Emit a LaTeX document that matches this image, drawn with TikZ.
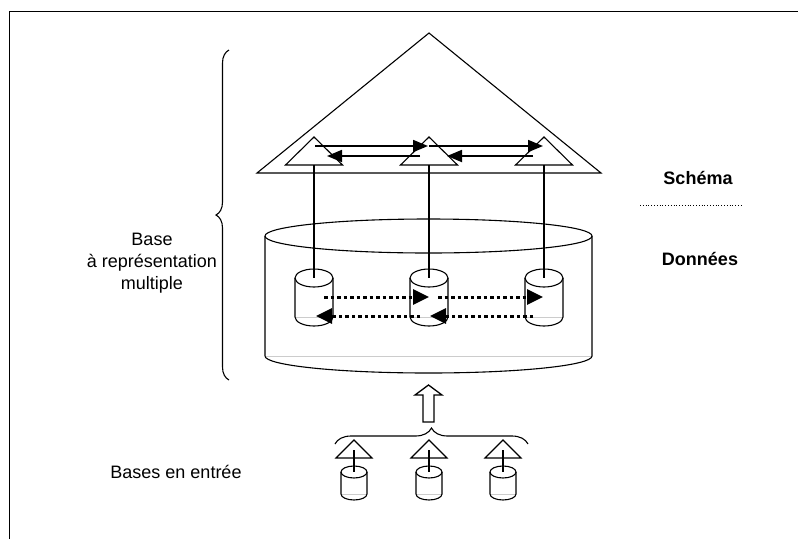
\documentclass[tikz,border=0pt]{standalone}
\usepackage{fontspec}
\setmainfont{Liberation Sans}
\usetikzlibrary{shapes,arrows.meta,positioning,calc,decorations.pathreplacing}

\tikzset{
  pics/tri/.style n args={2}{code={
    \draw[shp,fill=white] (-#1,#2) -- (0,0) -- (#1,#2) -- cycle;
    \coordinate (-apex) at (0,0);
    \coordinate (-base) at (0,#2);
  }},
  pics/dbcyl/.style n args={3}{code={
    \draw[rim] (-#1,#3) -- (#1,#3);
    \draw[shp] (-#1,0) -- (-#1,#3) arc[start angle=180,end angle=0,x radius=#1,y radius=#2] -- (#1,0);
    \draw[shp] (0,0) ellipse[x radius=#1,y radius=#2];
    \coordinate (-top) at (0,0);
  }}
}

\begin{document}
\begin{tikzpicture}[
  x=1pt,y=-1pt,
  shp/.style={draw,line width=1.1pt},
  rim/.style={draw=gray!40,line width=1pt},
  arr/.style={-{Triangle[length=15pt,width=12pt]},line width=1.8pt},
  dotarr/.style={-{Triangle[length=16pt,width=15pt]},line width=3pt,dash pattern=on 3.5pt off 3pt},
  brc/.style={decorate,line width=1.1pt},
  sep/.style={dotted,line width=0.8pt},
  lbl/.style={font=\fontsize{18}{22}\selectfont},
  hdr/.style={font=\fontsize{18}{22}\selectfont\bfseries}
]
\useasboundingbox (0,0) rectangle (798,539);
% Frame
\draw[line width=1pt] (9,539) -- (9,11) -- (800,11);

% Schema level
\pic (schema) at (429,33) {tri={172}{140}};
\pic (s1) at (314,137) {tri={28.5}{28}};
\pic (s2) at (429,137) {tri={28.5}{28}};
\pic (s3) at (544,137) {tri={28.5}{28}};

% Data level
\pic (db) at (428.5,236) {dbcyl={163.5}{17}{120}};
\pic (b1) at (314,278) {dbcyl={19}{9}{39}};
\pic (b2) at (429,278) {dbcyl={19}{9}{39}};
\pic (b3) at (544,278) {dbcyl={19}{9}{39}};

% Links schema -> data
\draw[shp] (s1-base) -- (b1-top);
\draw[shp] (s2-base) -- (b2-top);
\draw[shp] (s3-base) -- (b3-top);

\draw[arr] ($(s1-apex)+(1,9)$) -- ($(s2-apex)+(-1,9)$);
\draw[arr] ($(s2-apex)+(0,9)$) -- ($(s3-apex)+(-1,9)$);
\draw[arr] ($(s3-apex)+(-11,19)$) -- ($(s2-apex)+(18,19)$);
\draw[arr] ($(s2-apex)+(-9,19)$) -- ($(s1-apex)+(13,19)$);

\draw[dotarr] ($(b1-top)+(10,19)$) -- ($(b2-top)+(0,19)$);
\draw[dotarr] ($(b2-top)+(9,19)$) -- ($(b3-top)+(-1,19)$);
\draw[dotarr] ($(b3-top)+(-11,38)$) -- ($(b2-top)+(1,38)$);
\draw[dotarr] ($(b2-top)+(-9,38)$) -- ($(b1-top)+(2,38)$);

% Braces
\draw[brc,decoration={brace,amplitude=13pt}] (229,380) -- (229,50);
\draw[brc,decoration={brace,amplitude=16pt}] (335,444) -- (528,444);

% Input arrow
\draw[shp,line width=1.3pt] (423,422) -- (423,395) -- (415,395) -- (428.5,385)
  -- (442,395) -- (434,395) -- (434,422) -- cycle;

% Input bases
\foreach \i/\x in {1/354,2/429,3/503}{
  \pic (e\i) at (\x,440) {tri={18}{18}};
  \pic (ec\i) at (\x,472) {dbcyl={13}{6}{22}};
  \draw[shp] ($(e\i-apex)+(0,10)$) -- (ec\i-top);
}

% Labels
\node[lbl,align=center] (multi) at (152,263) {Base\\à représentation\\multiple};
\node[lbl,anchor=base] (entree) at (176,478) {Bases en entrée};
\node[hdr,anchor=base] (schemalbl) at (698,184) {Schéma};
\draw[sep] (640,205) -- (742,205);
\node[hdr,anchor=base] (donnees) at (700,265) {Données};
\end{tikzpicture}
\end{document}
